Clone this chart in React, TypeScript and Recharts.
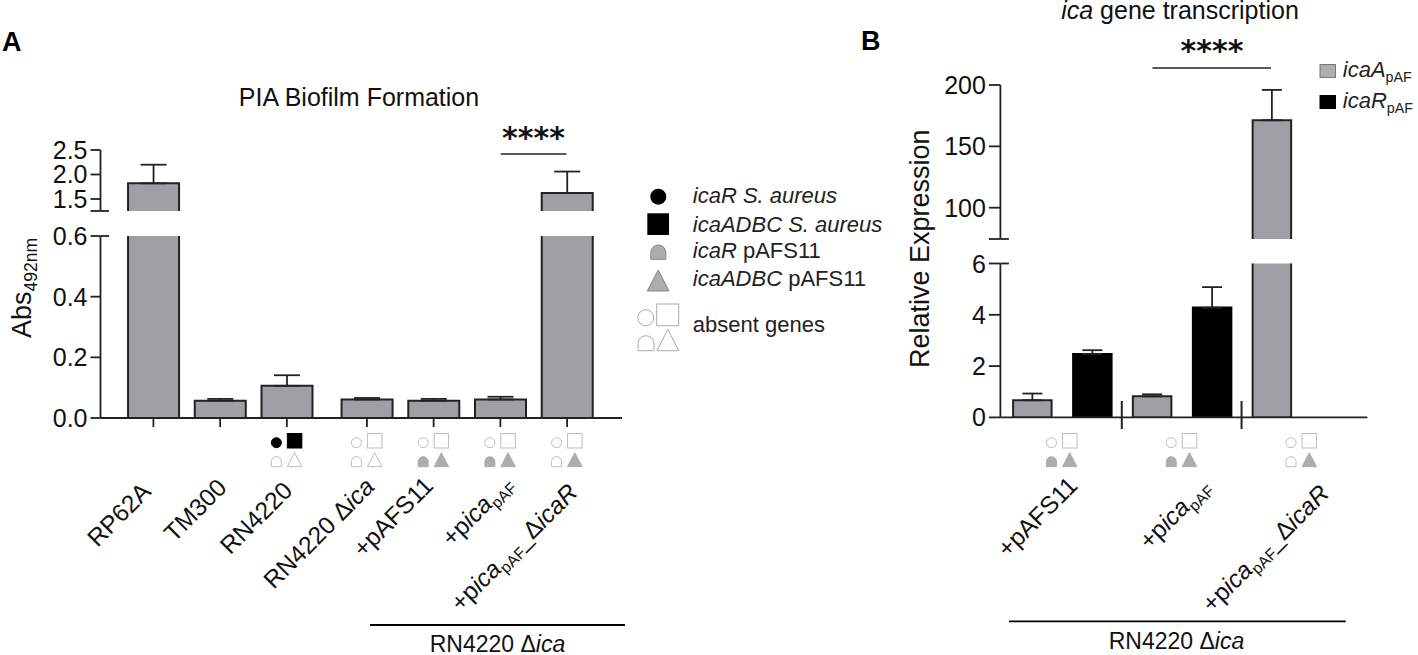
import { Bar, BarChart, ErrorBar, XAxis, YAxis } from 'recharts'

const FONT = '"Liberation Sans", Arial, sans-serif'
const INK = '#222222'
const GRAY = '#a0a0a4'
const GLYPH_GRAY = '#adadad'
const ABSENT = '#bdbdbd'

// panel A
const strainsA = ['RP62A', 'TM300', 'RN4220', 'RN4220 Δ/ica/', '+pAFS11', '+p/ica/_pAF_', '+p/ica/_pAF__Δ/icaR/']
const slotsA = [0, 1, 2, 3.2, 4.2, 5.2, 6.2]
const absA = [1.82, 0.057, 0.106, 0.061, 0.057, 0.061, 1.62]
const absErrA = [0.38, 0.006, 0.035, 0.005, 0.006, 0.009, 0.44]
const genesA = ['', '', 'native', 'absent', 'paf', 'paf', 'pafADBC']
const breakA = [0.6, 1.255]
const lowTicksA = [0, 0.2, 0.4, 0.6]
const highTicksA = [1.255, 1.5, 2, 2.5]

// panel B
const groupsB = ['+pAFS11', '+p/ica/_pAF_', '+p/ica/_pAF__Δ/icaR/']
const icaA = [0.67, 0.82, 171.3]
const icaAErr = [0.26, 0.08, 24.7]
const icaR = [2.47, 4.28, 0]
const icaRErr = [0.15, 0.8, 0]
const genesB = ['paf', 'paf', 'pafADBC']
const breakB = [6, 74.5]
const lowTicksB = [0, 2, 4, 6]
const highTicksB = [74.5, 100, 150, 200]

const legendA = ['/icaR S. aureus/', '/icaADBC S. aureus/', '/icaR/ pAFS11', '/icaADBC/ pAFS11', 'absent genes']

// error bars draw outside the clip, so each axis segment only gets the ones it shows
const errIn = (v: number, e: number, lo: number, hi: number) => (v > lo && v <= hi ? [0, e] : null)

const lowA = strainsA.map((name, i) => ({
  name,
  slot: slotsA[i],
  abs: absA[i],
  err: errIn(absA[i], absErrA[i], -1, breakA[0]),
}))
const highA = strainsA.map((name, i) => ({
  name,
  slot: slotsA[i],
  abs: absA[i] > breakA[1] ? absA[i] : null,
  err: errIn(absA[i], absErrA[i], breakA[1], Infinity),
}))
const lowB = groupsB.map((name, i) => ({
  name,
  a: icaA[i],
  aErr: errIn(icaA[i], icaAErr[i], -1, breakB[0]),
  r: icaR[i],
  rErr: errIn(icaR[i], icaRErr[i], 0, breakB[0]),
}))
const highB = groupsB.map((name, i) => ({
  name,
  a: icaA[i] > breakB[1] ? icaA[i] : null,
  aErr: errIn(icaA[i], icaAErr[i], breakB[1], Infinity),
}))

// "/x/" is italic, "_x_" is a subscript
function parts(label: string, size: number) {
  const out: any[] = []
  const re = /\/([^/]+)\/|_([^_ ]+)_|([^/_]+|_)/g
  let m: RegExpExecArray | null
  let shifted = false
  const drop = size * 0.22
  let k = 0
  while ((m = re.exec(label))) {
    const dy = m[2] ? (shifted ? 0 : drop) : shifted ? -drop : 0
    shifted = !!m[2]
    if (m[1]) out.push(<tspan key={k++} dy={dy} fontStyle="italic">{m[1]}</tspan>)
    else if (m[2]) out.push(<tspan key={k++} dy={dy} fontSize={size * 0.65}>{m[2]}</tspan>)
    else out.push(<tspan key={k++} dy={dy}>{m[3]}</tspan>)
  }
  return out
}

// bar without a bottom edge, for the segment above the axis break
function OpenBar(props: any) {
  const { x, y, width, height, fill, stroke, strokeWidth } = props
  return (
    <g>
      <rect x={x} y={y} width={width} height={height} fill={fill} />
      <path d={`M${x} ${y + height} L${x} ${y} L${x + width} ${y} L${x + width} ${y + height}`} fill="none" stroke={stroke} strokeWidth={strokeWidth} />
    </g>
  )
}

function Dome({ cx, top, w, h, fill, stroke }: any) {
  const r = w / 2
  return (
    <path
      d={`M${cx - r} ${top + h} L${cx - r} ${top + r} A${r} ${r} 0 0 1 ${cx + r} ${top + r} L${cx + r} ${top + h} Z`}
      fill={fill}
      stroke={stroke}
      strokeWidth={1}
    />
  )
}

function Genes({ x, state }: { x: number; state: string }) {
  if (!state) return null
  const native = state === 'native'
  const dome = state === 'paf'
  const tri = state === 'paf' || state === 'pafADBC'
  return (
    <g>
      <circle cx={x - 10.5} cy={442.7} r={5} fill={native ? '#000' : '#fff'} stroke={native ? '#000' : ABSENT} />
      <rect x={x + 0.5} y={433.5} width={14.5} height={14.5} fill={native ? '#000' : '#fff'} stroke={native ? '#000' : ABSENT} />
      <Dome cx={x - 10.5} top={456.7} w={10} h={10} fill={dome ? GLYPH_GRAY : '#fff'} stroke={dome ? GLYPH_GRAY : ABSENT} />
      <path
        d={`M${x + 0.5} 466.7 L${x + 7.7} 452.7 L${x + 15} 466.7 Z`}
        fill={tri ? GLYPH_GRAY : '#fff'}
        stroke={tri ? GLYPH_GRAY : ABSENT}
      />
    </g>
  )
}

const labelShiftA = [-1, 8, 7, 9, 1, 14, 12]
const labelDropA = [5, 1, 4, 0, -1, -3, 6]
const labelShiftB = [17, 30, 29]
const labelDropB = [-1, 0, 7]

function StrainTickA(props: any) {
  const { x, index } = props
  const ax = x + labelShiftA[index]
  const ay = 488 + labelDropA[index]
  return (
    <g>
      <Genes x={x} state={genesA[index]} />
      <text x={ax} y={ay} transform={`rotate(-45 ${ax} ${ay})`} textAnchor="end" fontSize={24.5} fill="#111">
        {parts(strainsA[index], 24.5)}
      </text>
    </g>
  )
}

function StrainTickB(props: any) {
  const { x, index } = props
  const ax = x + labelShiftB[index]
  const ay = 488 + labelDropB[index]
  return (
    <g>
      <Genes x={x} state={genesB[index]} />
      {index < 2 && <line x1={x + 59.8} x2={x + 59.8} y1={401} y2={429} stroke={INK} strokeWidth={2} />}
      <text x={ax} y={ay} transform={`rotate(-45 ${ax} ${ay})`} textAnchor="end" fontSize={24.5} fill="#111">
        {parts(groupsB[index], 24.5)}
      </text>
    </g>
  )
}

// value tick, the ends of the broken axis get a stub to the right of the line
function valueTick(fmt: (v: number) => string, hidden: number | null, stub: number, size: number) {
  return function ValueTick(props: any) {
    const { x, y, payload } = props
    const axisX = x + size + 3
    return (
      <g>
        {payload.value === stub || payload.value === hidden ? (
          <line x1={axisX} x2={axisX + 8.5} y1={y} y2={y} stroke={INK} strokeWidth={1.8} />
        ) : null}
        {payload.value !== hidden && (
          <text x={x} y={y} dy={9} textAnchor="end" fontSize={25} fill="#111">
            {fmt(payload.value)}
          </text>
        )}
      </g>
    )
  }
}

const layer = (left: number, width: number): any => ({ position: 'absolute', left, top: 0, width, height: 655 })

function PanelA() {
  const domainX: [number, number] = [-0.793, 7.023]
  return (
    <>
      <div style={layer(0, 640)}>
        <BarChart width={640} height={655} data={highA} margin={{ top: 150, right: 18, bottom: 444, left: 0 }}>
          <XAxis dataKey="slot" type="number" domain={domainX} hide />
          <YAxis
            domain={[breakA[1], 2.5]}
            allowDataOverflow
            ticks={highTicksA}
            width={100.5}
            tickSize={10}
            tickMargin={3}
            interval={0}
            axisLine={{ stroke: INK, strokeWidth: 1.8 }}
            tickLine={{ stroke: INK, strokeWidth: 1.8 }}
            tick={valueTick((v) => v.toFixed(1), breakA[1], -1, 10)}
          />
          <Bar dataKey="abs" barSize={51} fill={GRAY} stroke={INK} strokeWidth={2} shape={OpenBar} isAnimationActive={false}>
            <ErrorBar dataKey="err" width={13} stroke={INK} strokeWidth={1.8} direction="y" isAnimationActive={false} />
          </Bar>
        </BarChart>
      </div>
      <div style={layer(0, 640)}>
        <BarChart width={640} height={655} data={lowA} margin={{ top: 236, right: 18, bottom: 0, left: 0 }}>
          <XAxis
            dataKey="slot"
            type="number"
            domain={domainX}
            ticks={slotsA}
            interval={0}
            height={237}
            tickSize={9}
            axisLine={{ stroke: INK, strokeWidth: 1.8 }}
            tickLine={{ stroke: INK, strokeWidth: 1.8 }}
            tick={StrainTickA}
          />
          <YAxis
            domain={[0, breakA[0]]}
            allowDataOverflow
            ticks={lowTicksA}
            width={100.5}
            tickSize={10}
            tickMargin={3}
            interval={0}
            axisLine={{ stroke: INK, strokeWidth: 1.8 }}
            tickLine={{ stroke: INK, strokeWidth: 1.8 }}
            tick={valueTick((v) => v.toFixed(1), null, breakA[0], 10)}
          />
          <Bar dataKey="abs" barSize={51} fill={GRAY} stroke={INK} strokeWidth={2} isAnimationActive={false}>
            <ErrorBar dataKey="err" width={13} stroke={INK} strokeWidth={1.8} direction="y" isAnimationActive={false} />
          </Bar>
        </BarChart>
      </div>
    </>
  )
}

function PanelB() {
  return (
    <>
      <div style={layer(850, 568)}>
        <BarChart width={568} height={655} data={highB} barGap={21.5} margin={{ top: 85, right: 50.6, bottom: 416, left: 0 }}>
          <XAxis dataKey="name" hide padding={{ left: 1.7, right: 6 }} />
          <YAxis
            domain={[breakB[1], 200]}
            allowDataOverflow
            ticks={highTicksB}
            width={150.4}
            tickSize={11.5}
            tickMargin={3}
            interval={0}
            axisLine={{ stroke: INK, strokeWidth: 1.8 }}
            tickLine={{ stroke: INK, strokeWidth: 1.8 }}
            tick={valueTick((v) => String(v), breakB[1], -1, 11.5)}
          />
          <Bar dataKey="a" barSize={38.5} fill={GRAY} stroke={INK} strokeWidth={2} shape={OpenBar} isAnimationActive={false}>
            <ErrorBar dataKey="aErr" width={10} stroke={INK} strokeWidth={1.8} direction="y" isAnimationActive={false} />
          </Bar>
          <Bar dataKey="r" barSize={38.5} fill="#000" stroke="#000" strokeWidth={2} shape={OpenBar} isAnimationActive={false} />
        </BarChart>
      </div>
      <div style={layer(850, 568)}>
        <BarChart width={568} height={655} data={lowB} barGap={21.5} margin={{ top: 263.5, right: 50.6, bottom: 0, left: 0 }}>
          <XAxis
            dataKey="name"
            padding={{ left: 1.7, right: 6 }}
            height={237.6}
            tickLine={false}
            tickSize={0}
            tickMargin={0}
            interval={0}
            axisLine={{ stroke: INK, strokeWidth: 1.8 }}
            tick={StrainTickB}
          />
          <YAxis
            domain={[0, breakB[0]]}
            allowDataOverflow
            ticks={lowTicksB}
            width={150.4}
            tickSize={11.5}
            tickMargin={3}
            interval={0}
            axisLine={{ stroke: INK, strokeWidth: 1.8 }}
            tickLine={{ stroke: INK, strokeWidth: 1.8 }}
            tick={valueTick((v) => String(v), null, breakB[0], 11.5)}
          />
          <Bar dataKey="a" barSize={38.5} fill={GRAY} stroke={INK} strokeWidth={2} isAnimationActive={false}>
            <ErrorBar dataKey="aErr" width={10} stroke={INK} strokeWidth={1.8} direction="y" isAnimationActive={false} />
          </Bar>
          <Bar dataKey="r" barSize={38.5} fill="#000" stroke="#000" strokeWidth={2} isAnimationActive={false}>
            <ErrorBar dataKey="rErr" width={10} stroke={INK} strokeWidth={1.8} direction="y" isAnimationActive={false} />
          </Bar>
        </BarChart>
      </div>
    </>
  )
}

function Notes() {
  const legendY = [203.3, 231.7, 258.3, 285.7, 332.3]
  return (
    <svg width={1418} height={655} style={{ position: 'absolute', left: 0, top: 0, pointerEvents: 'none' }}>
      <text x={2} y={51} fontSize={27} fontWeight="bold" fill="#000">A</text>
      <text x={861} y={50} fontSize={27} fontWeight="bold" fill="#000">B</text>

      <text x={359} y={106} textAnchor="middle" fontSize={25} fill="#111">PIA Biofilm Formation</text>
      <text x={1180} y={19} textAnchor="middle" fontSize={25} fill="#111">{parts('/ica/ gene transcription', 25)}</text>

      <text x={533.5} y={148} textAnchor="middle" fontSize={30} fontWeight="bold" fontFamily="DejaVu Sans" fill="#111">****</text>
      <line x1={500.8} x2={566.5} y1={154} y2={154} stroke={INK} strokeWidth={1.6} />
      <text x={1212} y={61} textAnchor="middle" fontSize={30} fontWeight="bold" fontFamily="DejaVu Sans" fill="#111">****</text>
      <line x1={1152.5} x2={1271} y1={68} y2={68} stroke={INK} strokeWidth={1.6} />

      <text transform="translate(31 338) rotate(-90)" fontSize={27} fill="#111">{parts('Abs_492nm_', 27)}</text>
      <text transform="translate(929 368) rotate(-90)" fontSize={27} fill="#111">Relative Expression</text>

      <line x1={370} x2={625} y1={625} y2={625} stroke="#000" strokeWidth={1.8} />
      <text x={497.5} y={652} textAnchor="middle" fontSize={23} fill="#111">{parts('RN4220 Δ/ica/', 23)}</text>
      <line x1={1009} x2={1345.7} y1={621.3} y2={621.3} stroke="#000" strokeWidth={1.8} />
      <text x={1176.5} y={649} textAnchor="middle" fontSize={23} fill="#111">{parts('RN4220 Δ/ica/', 23)}</text>

      {legendA.map((t, i) => (
        <text key={t} x={692.8} y={legendY[i]} fontSize={22} fill="#222">{parts(t, 22)}</text>
      ))}
      <circle cx={658.3} cy={196.7} r={8} fill="#000" />
      <rect x={647.3} y={213.3} width={21.7} height={21.7} fill="#000" />
      <Dome cx={658.3} top={245} w={15} h={14.3} fill={GLYPH_GRAY} stroke="#888" />
      <path d="M647.3 291 L658.2 270 L669 291 Z" fill={GLYPH_GRAY} stroke="#888" />
      <circle cx={645.7} cy={317.7} r={8} fill="#fff" stroke="#aaa" />
      <rect x={656.7} y={304} width={22} height={21.7} fill="#fff" stroke="#aaa" />
      <Dome cx={646} top={335.7} w={16} h={15} fill="#fff" stroke="#aaa" />
      <path d="M657 350.7 L667.8 329.3 L678.7 350.7 Z" fill="#fff" stroke="#aaa" />

      <rect x={1320} y={64.5} width={15.5} height={13} fill={GLYPH_GRAY} stroke="#777" />
      <rect x={1320} y={95.5} width={15.5} height={13} fill="#000" stroke="#000" />
      <text x={1342.8} y={77} fontSize={22} fill="#222">{parts('/icaA/_pAF_', 22)}</text>
      <text x={1342.8} y={108} fontSize={22} fill="#222">{parts('/icaR/_pAF_', 22)}</text>
    </svg>
  )
}

export default function App() {
  return (
    <div style={{ position: 'absolute', left: 0, top: 0, width: 1418, height: 655, fontFamily: FONT, background: '#fff', overflow: 'hidden' }}>
      <PanelA />
      <PanelB />
      <Notes />
    </div>
  )
}
